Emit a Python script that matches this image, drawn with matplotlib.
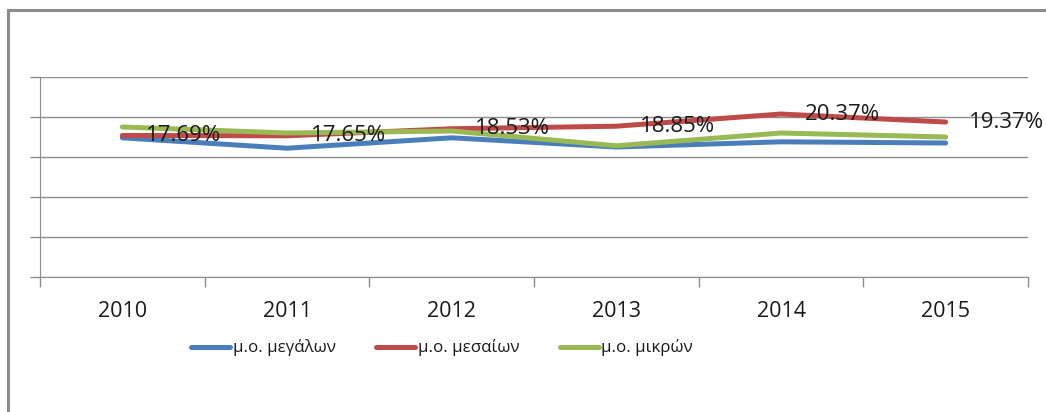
import matplotlib.pyplot as plt
from matplotlib.patches import Rectangle
from matplotlib.ticker import FixedLocator, NullFormatter

plt.rcParams['font.family'] = ['Open Sans', 'DejaVu Sans']

years = ['2010', '2011', '2012', '2013', '2014', '2015']
large = [17.4, 16.1, 17.4, 16.25, 16.9, 16.75]
medium = [17.69, 17.65, 18.53, 18.85, 20.37, 19.37]
small = [18.75, 18.0, 18.25, 16.4, 18.0, 17.5]
medium_labels = ['17.69%', '17.65%', '18.53%', '18.85%', '20.37%', '19.37%']

names = ['μ.ο. μεγάλων', 'μ.ο. μεσαίων', 'μ.ο. μικρών']
colors = ['#4A7EBB', '#BE4B48', '#98B954']

fig = plt.figure(figsize=(10.46, 4.12), dpi=100)
# outer chart frame (only top and left edges visible)
fig.patches.append(Rectangle((8 / 1046, -0.1), 1.2, 1 - 10 / 412 + 0.1,
                             transform=fig.transFigure, fill=False,
                             edgecolor='#8c8c8c', linewidth=2.2))

ax = fig.add_axes([40 / 1046, 135 / 412, 988 / 1046, 200 / 412])
x = list(range(len(years)))
for vals, name, c in zip([large, medium, small], names, colors):
    ax.plot(x, vals, color=c, linewidth=3.6, label=name,
            solid_capstyle='round', solid_joinstyle='round')

for xi, v, lab in zip(x, medium, medium_labels):
    ax.annotate(lab, (xi, v), xytext=(17, 0), textcoords='offset points',
                ha='left', va='center', fontsize=16, color='#1a1a1a')

ax.set_xlim(-0.5, 5.5)
ax.set_ylim(0, 25)
ax.set_yticks([0, 5, 10, 15, 20, 25])
ax.yaxis.set_major_formatter(NullFormatter())
ax.grid(axis='y', color='#8c8c8c', linewidth=1)
ax.set_axisbelow(True)

ax.xaxis.set_major_locator(FixedLocator([i - 0.5 for i in range(7)]))
ax.xaxis.set_major_formatter(NullFormatter())
ax.xaxis.set_minor_locator(FixedLocator(x))
ax.set_xticklabels(years, minor=True)
ax.tick_params(axis='x', which='minor', length=0, pad=17, labelsize=15.5,
               labelcolor='#1a1a1a')
ax.tick_params(axis='both', which='major', length=7, width=1, color='#8c8c8c')

for s in ['top', 'right']:
    ax.spines[s].set_visible(False)
for s in ['left', 'bottom']:
    ax.spines[s].set_color('#8c8c8c')

ax.legend(loc='center', bbox_to_anchor=(0.407, -0.355), ncol=3,
          frameon=False, fontsize=12.2, handlelength=2.3, columnspacing=2.4,
          handletextpad=0.15, labelcolor='#1a1a1a')

fig.savefig('out.png', dpi=100)
